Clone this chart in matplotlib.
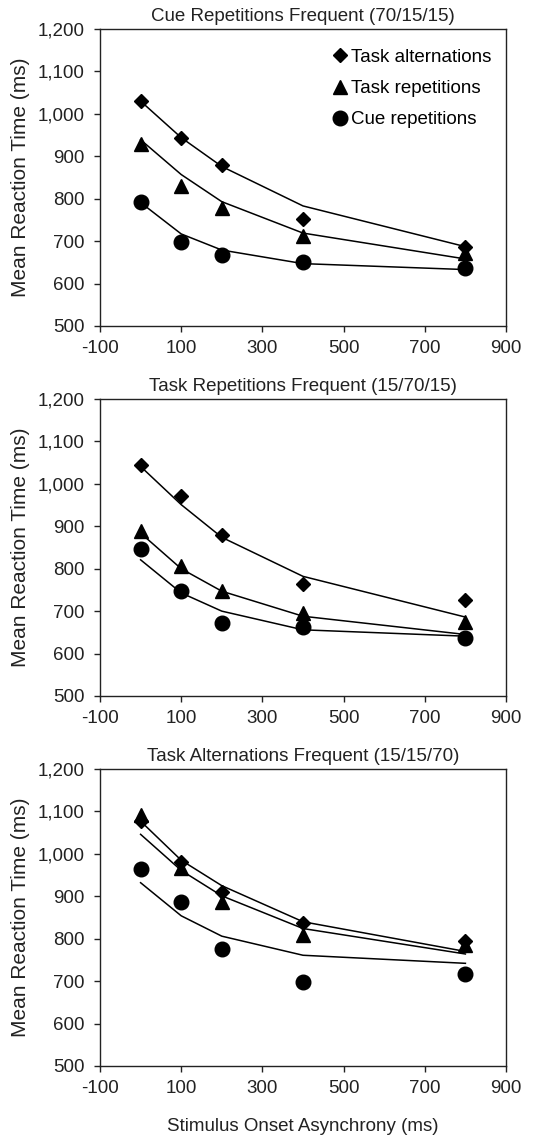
import matplotlib
matplotlib.use("Agg")
import matplotlib.pyplot as plt
from matplotlib.ticker import FuncFormatter

plt.rcParams["font.family"] = ["Liberation Sans", "DejaVu Sans"]
plt.rcParams["axes.unicode_minus"] = False

soa = [0, 100, 200, 400, 800]

titles = [
    "Cue Repetitions Frequent (70/15/15)",
    "Task Repetitions Frequent (15/70/15)",
    "Task Alternations Frequent (15/15/70)",
]
labels = ["Task alternations", "Task repetitions", "Cue repetitions"]

# observed means per panel: task alternations, task repetitions, cue repetitions
obs_ta = [[1031, 942, 880, 752, 687], [1045, 971, 879, 764, 727], [1077, 981, 910, 837, 795]]
obs_tr = [[929, 829, 779, 711, 671], [890, 807, 747, 696, 675], [1091, 966, 887, 808, 786]]
obs_cr = [[792, 698, 667, 650, 636], [846, 747, 673, 663, 636], [964, 887, 775, 697, 717]]

# model fits
fit_ta = [[1030, 944, 876, 783, 687], [1041, 951, 874, 782, 686], [1077, 985, 925, 840, 770]]
fit_tr = [[939, 857, 793, 719, 658], [884, 800, 747, 688, 645], [1046, 961, 901, 824, 764]]
fit_cr = [[791, 717, 679, 647, 633], [821, 743, 700, 656, 641], [932, 854, 806, 761, 742]]

fig = plt.figure(figsize=(5.34, 11.37), dpi=100)
W, H = 534, 1137
boxes = [(29, 326), (399, 696), (769, 1066)]
markers = [("D", 7.5), ("^", 10), ("o", 10.5)]
fs = 13.5

for i, (top, bot) in enumerate(boxes):
    ax = fig.add_axes([100 / W, 1 - bot / H, 406 / W, (bot - top) / H])
    for obs, fit, (m, ms), lab in zip(
        (obs_ta[i], obs_tr[i], obs_cr[i]),
        (fit_ta[i], fit_tr[i], fit_cr[i]),
        markers,
        labels,
    ):
        ax.plot(soa, fit, color="black", lw=1.1, zorder=2)
        ax.plot(soa, obs, linestyle="none", marker=m, markersize=ms,
                color="black", label=lab, zorder=3)
    ax.set_xlim(-100, 900)
    ax.set_ylim(500, 1200)
    ax.set_xticks(range(-100, 901, 200))
    ax.set_yticks(range(500, 1201, 100))
    ax.yaxis.set_major_formatter(FuncFormatter(lambda v, p: f"{int(v):,}"))
    ax.tick_params(direction="out", length=4, width=1, labelsize=fs, colors="#222222")
    ax.tick_params(axis="y", pad=7)
    ax.tick_params(axis="x", pad=6)
    for s in ax.spines.values():
        s.set_linewidth(1)
        s.set_color("#222222")
    ax.set_ylabel("Mean Reaction Time (ms)", fontsize=15, color="#222222")
    ax.yaxis.set_label_coords(-0.172, 0.5)
    ax.set_title(titles[i], fontsize=fs, pad=6, color="#222222")
    if i == 0:
        ax.legend(loc="upper left", bbox_to_anchor=(0.573, 0.933), frameon=False,
                  fontsize=fs, handlelength=0.8, handletextpad=0.2,
                  labelspacing=0.75, borderpad=0, borderaxespad=0)
    if i == 2:
        ax.set_xlabel("Stimulus Onset Asynchrony (ms)", fontsize=fs, labelpad=15,
                      color="#222222")

fig.savefig("out.png", dpi=100)
